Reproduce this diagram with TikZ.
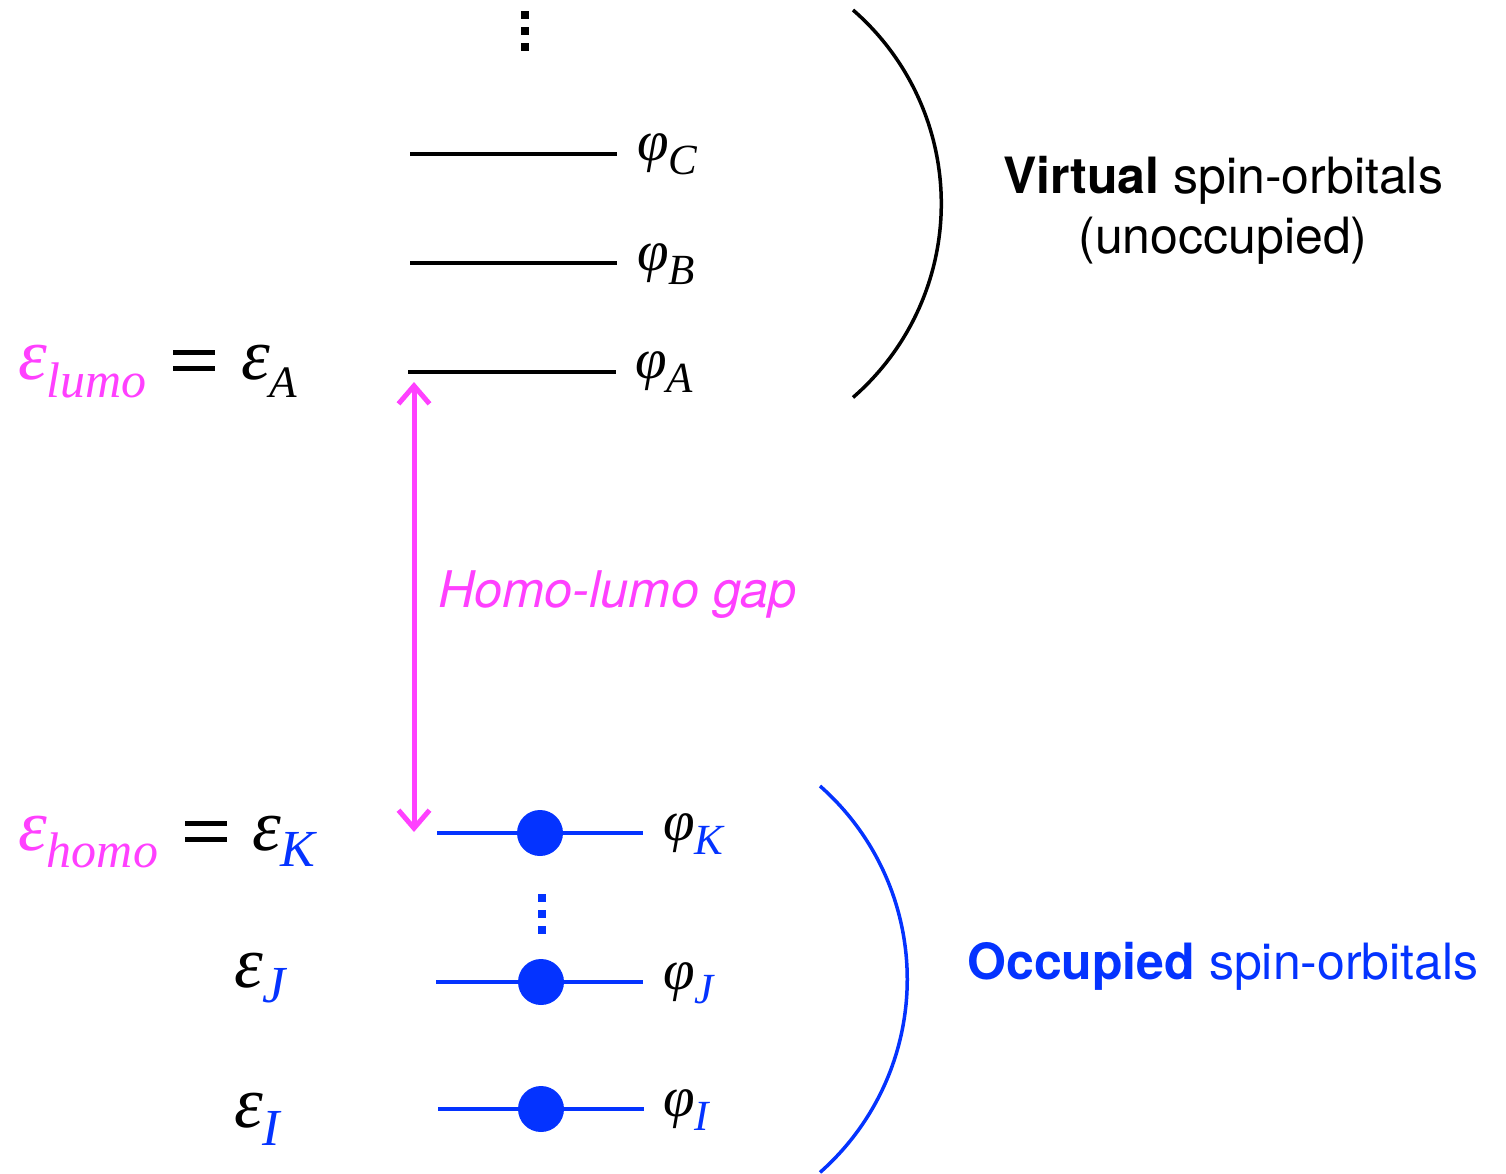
\documentclass[tikz,border=0pt]{standalone}
\usepackage{fontspec}
\setmainfont{Liberation Serif}
\newfontfamily\hv{TeX Gyre Heros}
\usetikzlibrary{arrows.meta}
\definecolor{mag}{RGB}{255,64,255}
\definecolor{blu}{RGB}{4,51,255}
\newcommand\sbx[3]{\raisebox{-#2pt}{\fontsize{#1pt}{#1pt}\selectfont #3}}
\newcommand\bigf{\fontsize{73pt}{73pt}\selectfont\itshape}
\newcommand\phif{\fontsize{57pt}{57pt}\selectfont\itshape}
\newcommand\eqs{\rlap{\raisebox{24pt}{\rule{42pt}{5.5pt}}}\raisebox{8pt}{\rule{42pt}{5.5pt}}}
\tikzset{
  lvl/.style={line width=4pt, line cap=butt},
  vlvl/.style={lvl, black},
  olvl/.style={line width=3.6pt, blu},
  elec/.style={circle, fill=blu, minimum size=46pt, inner sep=0pt},
  lab/.style={anchor=base west, inner sep=0pt},
  sq/.style={rectangle, minimum size=8pt, inner sep=0pt, fill=#1},
  txt/.style={inner sep=0pt, font=\hv\fontsize{50pt}{60pt}\selectfont, align=center},
  brace/.style={line width=3.5pt},
  barb/.tip={Straight Barb[length=18pt,width=31pt]},
}
\begin{document}
\begin{tikzpicture}[x=1pt,y=-1pt]
\useasboundingbox (0,0) rectangle (1506,1174);
% top dots
\node[sq=black] (t1) at (525,15) {};
\node[sq=black] (t2) at (525,31) {};
\node[sq=black] (t3) at (525,47) {};
% virtual levels
\coordinate (c1) at (410,154); \coordinate (c2) at (617,154);
\coordinate (b1) at (410,263); \coordinate (b2) at (617,263);
\coordinate (a1) at (408,372); \coordinate (a2) at (616,372);
\draw[vlvl] (c1) -- (c2);
\draw[vlvl] (b1) -- (b2);
\draw[vlvl] (a1) -- (a2);
\node[lab] (phC) at (637,161) {\phif φ\sbx{43}{14}{C}};
\node[lab] (phB) at (637,270) {\phif φ\sbx{43}{14}{B}};
\node[lab] (phA) at (635,378) {\phif φ\sbx{43}{14}{A}};
% virtual brace
\draw[brace] (853,10) arc[start angle=-49, end angle=49, radius=256.7];
\node[txt] (virt) at (1223,210) {{\bfseries Virtual} spin-orbitals\\(unoccupied)};
% lumo label
\node[lab] (elumo) at (18,379) {\bigf\color{mag}ε\sbx{50}{18}{lumo}};
\node[lab] (eqL) at (173,379) {\eqs};
\node[lab] (eA) at (241,379) {\bigf ε\sbx{45}{18}{A}};
% gap arrow
\coordinate (gt) at (414,382);
\coordinate (gb) at (414,832);
\draw[mag, line width=5pt, {barb}-{barb}] (gt) -- (gb);
\node[inner sep=0pt, anchor=west, text=mag, font=\hv\itshape\fontsize{50.5pt}{60pt}\selectfont] (gap) at (438,595) {Homo-lumo gap};
% occupied levels
\coordinate (k1) at (437,833); \coordinate (k2) at (643,833);
\coordinate (j1) at (436,982); \coordinate (j2) at (643,982);
\coordinate (i1) at (438,1109); \coordinate (i2) at (644,1109);
\draw[olvl] (k1) -- (k2);
\draw[olvl] (j1) -- (j2);
\draw[olvl] (i1) -- (i2);
\node[elec] (ek) at (540,833) {};
\node[elec] (ej) at (541,982) {};
\node[elec] (ei) at (541,1109) {};
\node[sq=blu] (o1) at (542,898) {};
\node[sq=blu] (o2) at (542,914) {};
\node[sq=blu] (o3) at (542,930) {};
\node[lab] (phK) at (663,840) {\phif φ\sbx{43}{14}{\color{blu}K}};
\node[lab] (phJ) at (663,989) {\phif φ\sbx{43}{14}{\color{blu}J}};
\node[lab] (phI) at (663,1116) {\phif φ\sbx{43}{14}{\color{blu}I}};
% occupied brace
\draw[brace, blu] (820,786) arc[start angle=-48.6, end angle=48.6, radius=257.6];
\node[txt, text=blu] (occ) at (1223,966) {{\bfseries Occupied} spin-orbitals};
% homo labels
\node[lab] (ehomo) at (18,850) {\bigf\color{mag}ε\sbx{50}{17}{homo}};
\node[lab] (eqH) at (185,850) {\eqs};
\node[lab] (eK) at (252,850) {\bigf ε\sbx{52}{16}{\color{blu}K}};
\node[lab] (eJ) at (234,987) {\bigf ε\sbx{52}{15}{\color{blu}J}};
\node[lab] (eI) at (234,1127) {\bigf ε\sbx{52}{18}{\color{blu}I}};
\end{tikzpicture}
\end{document}
